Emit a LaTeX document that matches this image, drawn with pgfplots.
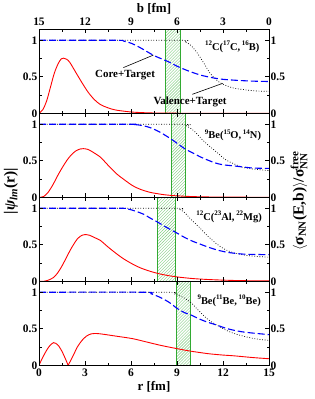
\documentclass[border=0pt]{standalone}
\usepackage{fontspec}
\setmainfont{Liberation Serif}
\usepackage{pgfplots}
\pgfplotsset{compat=1.18}
\usetikzlibrary{patterns}
\definecolor{bandgreen}{RGB}{50,170,50}
\definecolor{hatchgreen}{RGB}{130,205,130}
\newcommand{\tl}[1]{\textbf{#1}}
\pgfplotsset{
 common/.style={
  width=230bp, height=84bp, scale only axis,
  xmin=0, xmax=15, ymin=0, ymax=1.15,
  tick align=inside, major tick length=4bp, minor tick length=2.5bp,
  every tick/.style={black, line width=0.6pt},
  axis line style={line width=0.8pt},
  tick label style={font=\fontsize{11.5}{11.5}\selectfont\bfseries},
  yticklabel style={inner xsep=1.5bp},
  label style={font=\fontsize{13}{13}\selectfont\bfseries},
 },
 panel/.style={common,
  xtick={0,3,6,9,12,15}, minor xtick={1.5,4.5,7.5,10.5,13.5},
  ytick={0,0.5,1}, minor ytick={0.25,0.75},
  xticklabels={}, yticklabels={\tl{0},\tl{0.5},\tl{1}},
  axis on top,
 },
 rside/.style={common,
  hide x axis, axis y line*=right,
  ytick={0,0.5,1}, minor ytick={0.25,0.75}, yticklabels={\tl{0},\tl{0.5},\tl{1}},
 },
 redc/.style={red, line width=0.9pt, smooth, no marks},
 bluec/.style={blue, line width=1.1pt, dash pattern=on 7bp off 3bp, smooth, no marks},
 dotc/.style={black, line width=0.7pt, dash pattern=on 0.8bp off 1.8bp, smooth, no marks},
 band/.style={draw=bandgreen, line width=0.6pt, pattern=north east lines, pattern color=hatchgreen},
}
\newcommand{\rlab}[1]{\fontsize{10.5}{10.5}\selectfont\bfseries #1}
\newcommand{\sps}[1]{\raisebox{0.45em}{\fontsize{7}{7}\selectfont\bfseries #1}}
\begin{document}
\begin{tikzpicture}
\path[use as bounding box] (0,0) rectangle (315bp,399bp);
% ---------------- Panel 1
\begin{axis}[panel, at={(39bp,285.7bp)}, anchor=south west]
\addplot[band] coordinates {(8.22,-0.05) (9.2,-0.05) (9.2,1.2) (8.22,1.2)} -- cycle;
\addplot[redc] coordinates {(0,0) (0.25,0.05) (0.5,0.17) (0.75,0.36) (1.0,0.55) (1.25,0.68) (1.45,0.745) (1.6,0.755) (1.8,0.74) (2.0,0.70) (2.4,0.56) (2.8,0.42) (3.2,0.29) (3.6,0.19) (4.0,0.12) (4.5,0.075) (5.0,0.045) (6.0,0.018) (7,0.007) (8,0.003) (10,0.0005) (15,0)};
\addplot[dotc] coordinates {(0,1) (9,1) (9.5,0.98) (9.85,0.94) (10.2,0.86) (10.5,0.77) (10.8,0.67) (11.15,0.55) (11.5,0.47) (11.8,0.42) (12.2,0.38) (12.7,0.345) (13.5,0.32) (14.2,0.305) (15,0.30)};
\addplot[bluec] coordinates {(0,1) (5,1) (5.5,0.99) (6,0.96) (6.5,0.91) (7,0.85) (7.5,0.79) (8,0.745) (8.5,0.70) (9,0.645) (9.5,0.60) (10,0.56) (10.5,0.525) (11,0.50) (11.5,0.48) (12,0.465) (13,0.45) (14,0.44) (15,0.435)};
\draw[black, line width=0.6pt] (axis cs:5.5,0.625) -- (axis cs:7.46,0.797);
\draw[black, line width=0.6pt] (axis cs:10.0,0.26) -- (axis cs:11.98,0.41);
\node[font=\fontsize{11}{11}\selectfont\bfseries] at (axis cs:5.61,0.524) {Core+Target};
\node[font=\fontsize{11}{11}\selectfont\bfseries] at (axis cs:9.85,0.15) {Valence+Target};
\node[font=\rlab{}] at (axis cs:12.6,0.91) {\sps{12}C(\sps{17}C,\,\sps{16}B)};
\end{axis}
\begin{axis}[rside, at={(39bp,285.7bp)}, anchor=south west]
\end{axis}
\begin{axis}[common, at={(39bp,285.7bp)}, anchor=south west, hide y axis, axis x line*=top,
  xtick={0,3,6,9,12,15}, minor xtick={1.5,4.5,7.5,10.5,13.5},
  xticklabels={\tl{15},\tl{12},\tl{9},\tl{6},\tl{3},\tl{0}},
  xlabel={b [fm]}, xlabel style={yshift=-3bp}]
\end{axis}
% ---------------- Panel 2
\begin{axis}[panel, at={(39bp,201.7bp)}, anchor=south west]
\addplot[band] coordinates {(8.61,-0.05) (9.52,-0.05) (9.52,1.2) (8.61,1.2)} -- cycle;
\addplot[redc] coordinates {(0,0) (0.3,0.01) (0.6,0.07) (0.93,0.18) (1.2,0.29) (1.5,0.40) (1.8,0.50) (2.1,0.58) (2.4,0.635) (2.7,0.662) (2.9,0.666) (3.2,0.655) (3.5,0.62) (4.0,0.55) (4.5,0.44) (5.07,0.32) (5.5,0.25) (6.1,0.16) (6.6,0.11) (7.2,0.07) (8,0.04) (8.5,0.028) (9,0.02) (10,0.01) (11,0.005) (12,0.003) (15,0)};
\addplot[dotc] coordinates {(0,1) (9.2,1) (9.6,0.98) (9.85,0.95) (10.2,0.89) (10.6,0.80) (11,0.72) (11.35,0.66) (11.8,0.58) (12.2,0.51) (12.7,0.46) (13.3,0.41) (14,0.385) (15,0.365)};
\addplot[bluec] coordinates {(0,1) (6,1) (6.3,0.995) (6.8,0.98) (7.3,0.95) (7.9,0.89) (8.6,0.80) (9.0,0.74) (9.5,0.666) (10,0.61) (10.5,0.555) (11,0.51) (11.5,0.47) (12,0.445) (12.7,0.43) (13.5,0.41) (14,0.40) (15,0.395)};
\node[font=\rlab{}] at (axis cs:12.65,0.85) {\sps{9}Be(\sps{15}O,\,\sps{14}N)};
\end{axis}
\begin{axis}[rside, at={(39bp,201.7bp)}, anchor=south west]
\end{axis}
% ---------------- Panel 3
\begin{axis}[panel, at={(39bp,117.7bp)}, anchor=south west]
\addplot[band] coordinates {(7.74,-0.05) (8.87,-0.05) (8.87,1.2) (7.74,1.2)} -- cycle;
\addplot[redc] coordinates {(0,0) (0.3,0.0) (0.6,0.015) (0.93,0.05) (1.2,0.11) (1.5,0.21) (1.8,0.33) (2.1,0.45) (2.5,0.58) (2.8,0.63) (3.0,0.64) (3.3,0.63) (3.6,0.60) (4.0,0.56) (4.5,0.47) (5.07,0.375) (5.5,0.31) (6.1,0.236) (6.6,0.185) (7.2,0.14) (7.8,0.105) (8.3,0.083) (9,0.06) (10,0.038) (11,0.025) (12,0.016) (13,0.01) (14,0.007) (15,0.005)};
\addplot[dotc] coordinates {(0,1) (8.8,1) (9.2,0.98) (9.5,0.94) (9.85,0.86) (10.2,0.79) (10.5,0.73) (11,0.62) (11.6,0.51) (12.1,0.44) (12.7,0.39) (13.5,0.355) (14.2,0.34) (15,0.33)};
\addplot[bluec] coordinates {(0,1) (5.3,1) (5.8,0.99) (6.3,0.96) (6.8,0.92) (7.3,0.86) (7.74,0.81) (8.3,0.74) (8.87,0.675) (9.5,0.60) (10,0.55) (10.5,0.51) (11,0.47) (11.6,0.43) (12.2,0.40) (12.7,0.385) (13.5,0.37) (15,0.365)};
\node[font=\rlab{}] at (axis cs:12.4,0.88) {\sps{12}C(\sps{23}Al,\,\sps{22}Mg)};
\end{axis}
\begin{axis}[rside, at={(39bp,117.7bp)}, anchor=south west]
\end{axis}
% ---------------- Panel 4
\begin{axis}[panel, at={(39bp,33.7bp)}, anchor=south west,
  xticklabels={\tl{0},\tl{3},\tl{6},\tl{9},\tl{12},\tl{15}}, xlabel={r [fm]}, xlabel style={yshift=2bp}]
\addplot[band] coordinates {(8.98,-0.05) (9.89,-0.05) (9.89,1.2) (8.98,1.2)} -- cycle;
\addplot[redc] coordinates {(0,0) (0.2,0.09) (0.4,0.17) (0.6,0.24) (0.8,0.29) (0.95,0.31) (1.1,0.30) (1.3,0.26) (1.5,0.19) (1.7,0.10) (1.9,0.0)};
\addplot[redc] coordinates {(1.9,0.0) (2.2,0.12) (2.5,0.25) (2.8,0.34) (3.1,0.40) (3.4,0.43) (3.76,0.435) (4.2,0.425) (5,0.40) (6.1,0.365) (7,0.32) (8,0.27) (9.2,0.22) (9.85,0.195) (11,0.16) (12,0.14) (12.7,0.13) (14,0.105) (15,0.09)};
\addplot[dotc] coordinates {(0,1) (8.3,1) (8.8,0.98) (9.3,0.94) (9.85,0.87) (10.5,0.73) (11,0.63) (11.6,0.55) (12.2,0.48) (12.8,0.43) (13.5,0.39) (14.2,0.36) (15,0.34)};
\addplot[bluec] coordinates {(0,1) (6.8,1) (7.3,0.98) (7.9,0.93) (8.5,0.86) (9,0.78) (9.5,0.72) (9.9,0.69) (10.5,0.63) (11,0.59) (11.6,0.55) (12.3,0.50) (13.2,0.46) (14,0.44) (15,0.42)};
\node[font=\rlab{}] at (axis cs:12.4,0.885) {\sps{9}Be(\sps{11}Be,\,\sps{10}Be)};
\end{axis}
\begin{axis}[rside, at={(39bp,33.7bp)}, anchor=south west]
\end{axis}
% ---------------- y labels
\node[rotate=90, font=\fontsize{15.5}{15.5}\selectfont\bfseries] at (11bp,208bp)
  {|{\itshape ψ}\textsubscript{\itshape lm}(r)|};
\node[rotate=90, font=\fontsize{15.5}{15.5}\selectfont\bfseries] at (299bp,198bp)
  {$\langle$σ\textsubscript{NN}(E,b)$\rangle$/σ$^{\mbox{\fontsize{11}{11}\selectfont\bfseries free}}_{\mbox{\fontsize{11}{11}\selectfont\bfseries NN}}$};
\end{tikzpicture}
\end{document}
